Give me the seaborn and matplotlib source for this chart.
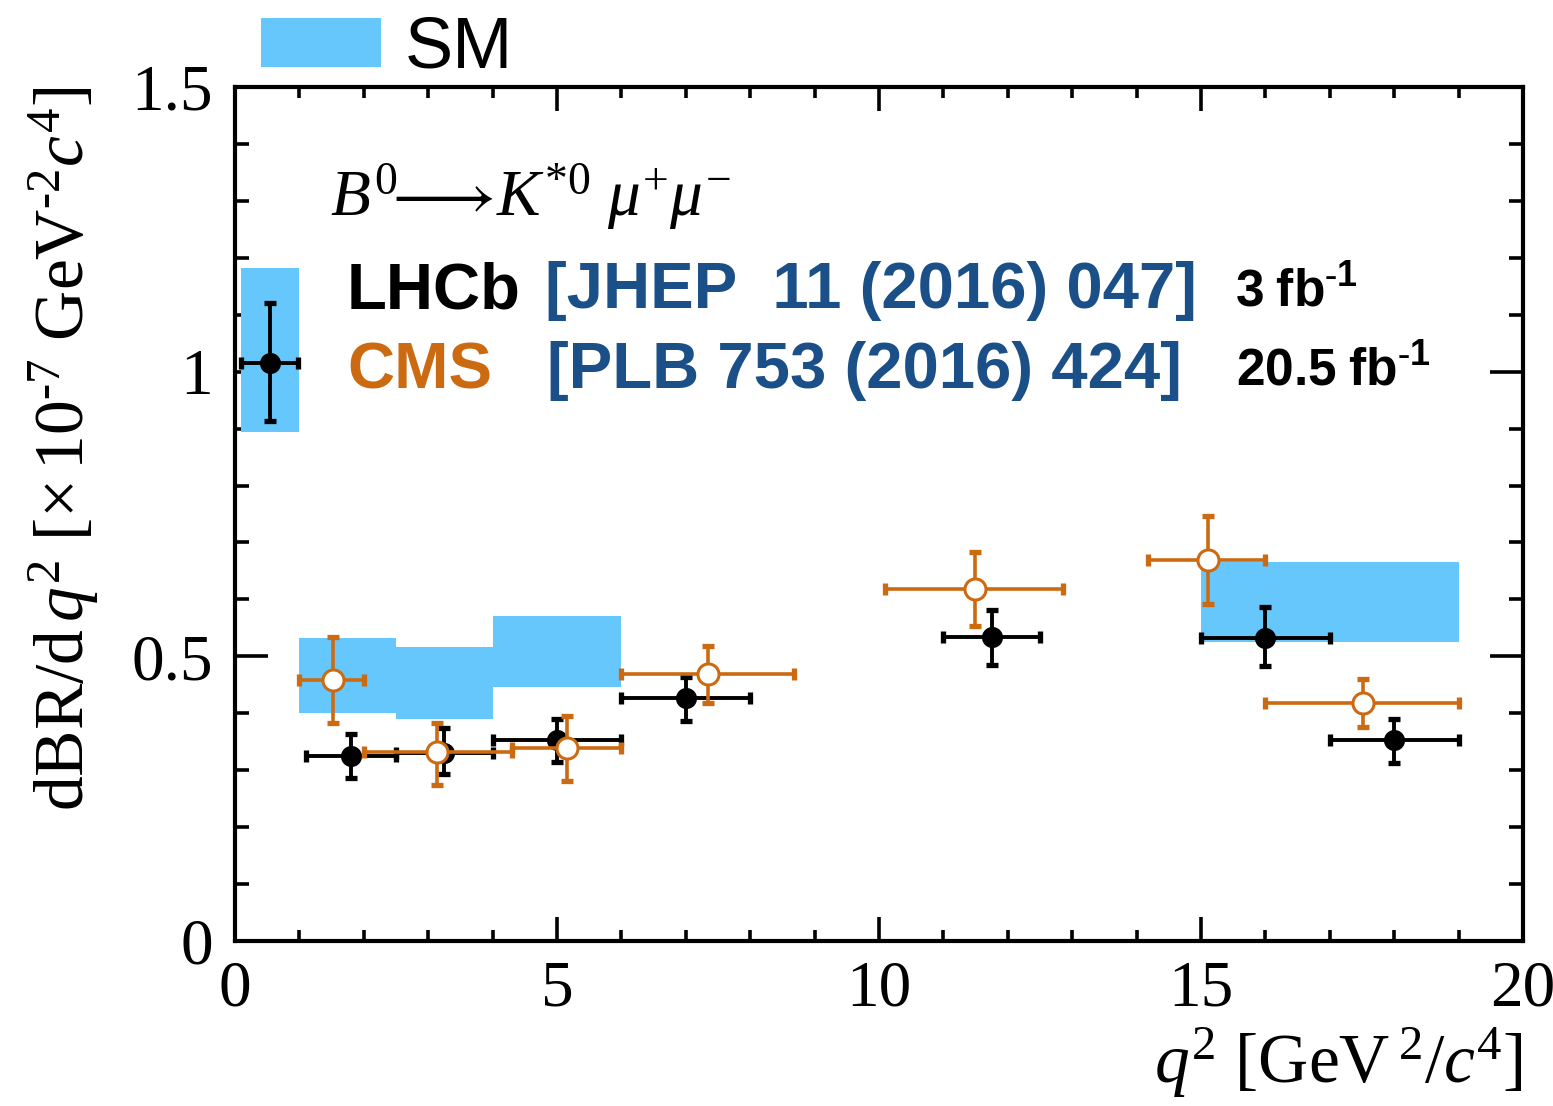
import numpy as np
import pandas as pd
import seaborn as sns
import matplotlib
matplotlib.use("Agg")
import matplotlib.pyplot as plt
from matplotlib.patches import Patch
from matplotlib.ticker import MultipleLocator

# ---- Standard Model predictions (q2 bins, band low / high) ----
sm_lo = [0.1, 1.0, 2.5, 4.0, 15.0]
sm_hi = [1.0, 2.5, 4.0, 6.0, 19.0]
sm_band_low = [0.894, 0.400, 0.390, 0.446, 0.525]
sm_band_high = [1.182, 0.532, 0.516, 0.571, 0.666]

# ---- LHCb measurement ----
lhcb_lo = [0.1, 1.1, 2.5, 4.0, 6.0, 11.0, 15.0, 17.0]
lhcb_hi = [0.98, 2.5, 4.0, 6.0, 8.0, 12.5, 17.0, 19.0]
lhcb_x = [0.54, 1.8, 3.25, 5.0, 7.0, 11.75, 16.0, 18.0]
lhcb_y = [1.015, 0.325, 0.330, 0.353, 0.427, 0.534, 0.532, 0.353]
lhcb_err_up = [0.105, 0.039, 0.044, 0.037, 0.037, 0.047, 0.055, 0.037]
lhcb_err_dn = [0.102, 0.039, 0.037, 0.039, 0.041, 0.049, 0.049, 0.040]

# ---- CMS measurement ----
cms_lo = [1.0, 2.0, 4.3, 6.0, 10.09, 14.18, 16.0]
cms_hi = [2.0, 4.3, 6.0, 8.68, 12.86, 16.0, 19.0]
cms_x = [1.52, 3.14, 5.16, 7.34, 11.49, 15.11, 17.52]
cms_y = [0.458, 0.332, 0.339, 0.469, 0.618, 0.669, 0.418]
cms_err_up = [0.076, 0.051, 0.056, 0.049, 0.065, 0.077, 0.042]
cms_err_dn = [0.075, 0.058, 0.058, 0.051, 0.065, 0.077, 0.042]

SM_COLOR = "#66c7fd"
CMS_COLOR = "#cc6a12"
REF_BLUE = "#1b4f87"

sns.set_theme(style="ticks")
plt.rcParams["font.family"] = ["Liberation Serif", "DejaVu Serif"]
plt.rcParams["mathtext.fontset"] = "custom"
plt.rcParams["mathtext.rm"] = "Liberation Serif"
plt.rcParams["mathtext.it"] = "Liberation Serif:italic"
plt.rcParams["mathtext.sf"] = "Liberation Sans:bold"
for key in ["text.color", "axes.labelcolor", "xtick.color", "ytick.color", "axes.edgecolor"]:
    plt.rcParams[key] = "black"

fig = plt.figure(figsize=(15.53, 11.06), dpi=100)
ax = fig.add_axes([0.1513, 0.1492, 0.8294, 0.7721])

sm = pd.DataFrame({"lo": sm_lo, "hi": sm_hi, "low": sm_band_low, "high": sm_band_high})
lhcb = pd.DataFrame({"x": lhcb_x, "y": lhcb_y, "lo": lhcb_lo, "hi": lhcb_hi,
                     "up": lhcb_err_up, "dn": lhcb_err_dn})
cms = pd.DataFrame({"x": cms_x, "y": cms_y, "lo": cms_lo, "hi": cms_hi,
                    "up": cms_err_up, "dn": cms_err_dn})

# SM bands
ax.bar(sm["lo"], sm["high"] - sm["low"], width=sm["hi"] - sm["lo"], bottom=sm["low"],
       align="edge", color=SM_COLOR, edgecolor="none", linewidth=0, zorder=1, label="SM")

# LHCb points
ax.errorbar(lhcb["x"], lhcb["y"],
            xerr=[lhcb["x"] - lhcb["lo"], lhcb["hi"] - lhcb["x"]],
            yerr=[lhcb["dn"], lhcb["up"]],
            fmt="none", ecolor="black", elinewidth=2.8, capsize=4.0, capthick=3.8, zorder=3)
sns.scatterplot(data=lhcb, x="x", y="y", ax=ax, color="black", s=230,
                edgecolor="black", linewidth=0, zorder=4, legend=False)

# CMS points
ax.errorbar(cms["x"], cms["y"],
            xerr=[cms["x"] - cms["lo"], cms["hi"] - cms["x"]],
            yerr=[cms["dn"], cms["up"]],
            fmt="none", ecolor=CMS_COLOR, elinewidth=2.6, capsize=4.0, capthick=3.8, zorder=5)
sns.scatterplot(data=cms, x="x", y="y", ax=ax, color="white", s=230,
                edgecolor=CMS_COLOR, linewidth=2.2, zorder=6, legend=False)

# Axes, ticks
ax.set_xlim(0, 20)
ax.set_ylim(0, 1.5)
ax.xaxis.set_major_locator(MultipleLocator(5))
ax.xaxis.set_minor_locator(MultipleLocator(1))
ax.yaxis.set_major_locator(MultipleLocator(0.5))
ax.yaxis.set_minor_locator(MultipleLocator(0.1))
ax.set_xticks([0, 5, 10, 15, 20])
ax.set_xticklabels(["0", "5", "10", "15", "20"])
ax.set_yticks([0, 0.5, 1.0, 1.5])
ax.set_yticklabels(["0", "0.5", "1", "1.5"])
ax.tick_params(axis="both", which="both", direction="in", top=True, right=True,
               width=2.6, colors="black", labelsize=47)
ax.tick_params(axis="x", which="major", length=17, pad=14)
ax.tick_params(axis="x", which="minor", length=8)
ax.tick_params(axis="y", which="major", length=24, pad=16)
ax.tick_params(axis="y", which="minor", length=10)
for s in ax.spines.values():
    s.set_linewidth(3.0)
    s.set_color("black")
ax.grid(False)

ax.set_xlabel(r"$q^{2}$ [GeV$\,^{2}/c^{4}$]", fontsize=50, loc="right", labelpad=4)
ax.set_ylabel(r"dBR/d$\,q^{2}$ [$\times\,$10$^{\text{-}7}$ GeV$^{\text{-}2}c^{4}$]",
              fontsize=50, loc="top", labelpad=22)

# Decay channel
ax.text(0.0738, 0.850, r"$B^{\mathrm{0}}\!\!\longrightarrow\! K^{\mathrm{*0}}\ \mu^{+}\mu^{-}$",
        transform=ax.transAxes, fontsize=47, va="baseline", ha="left", color="black")

# Experiment / reference / luminosity lines
sans = ["Liberation Sans", "DejaVu Sans"]
ax.text(0.087, 0.741, "LHCb", transform=ax.transAxes, fontsize=47, fontweight="bold",
        family=sans, color="black", va="baseline")
ax.text(0.2407, 0.741, "[JHEP  11 (2016) 047]", transform=ax.transAxes, fontsize=47,
        fontweight="bold", family=sans, color=REF_BLUE, va="baseline")
ax.text(0.776, 0.743, r"$\mathsf{3\ fb^{\text{-}1}}$", transform=ax.transAxes, fontsize=37,
        color="black", va="baseline")
ax.text(0.087, 0.6475, "CMS", transform=ax.transAxes, fontsize=47, fontweight="bold",
        family=sans, color=CMS_COLOR, va="baseline")
ax.text(0.242, 0.6475, "[PLB 753 (2016) 424]", transform=ax.transAxes, fontsize=47,
        fontweight="bold", family=sans, color=REF_BLUE, va="baseline")
ax.text(0.777, 0.650, r"$\mathsf{20.5\ fb^{\text{-}1}}$", transform=ax.transAxes, fontsize=37,
        color="black", va="baseline")

# SM legend above the frame
leg = ax.legend(handles=[Patch(facecolor=SM_COLOR, edgecolor="none", label="SM")],
                loc="lower left", bbox_to_anchor=(0.0205, 1.005), frameon=False,
                handlelength=1.65, handleheight=0.68, handletextpad=0.33,
                borderpad=0, borderaxespad=0,
                prop={"family": sans, "size": 52})

fig.savefig("out.png", dpi=100, facecolor="white")
